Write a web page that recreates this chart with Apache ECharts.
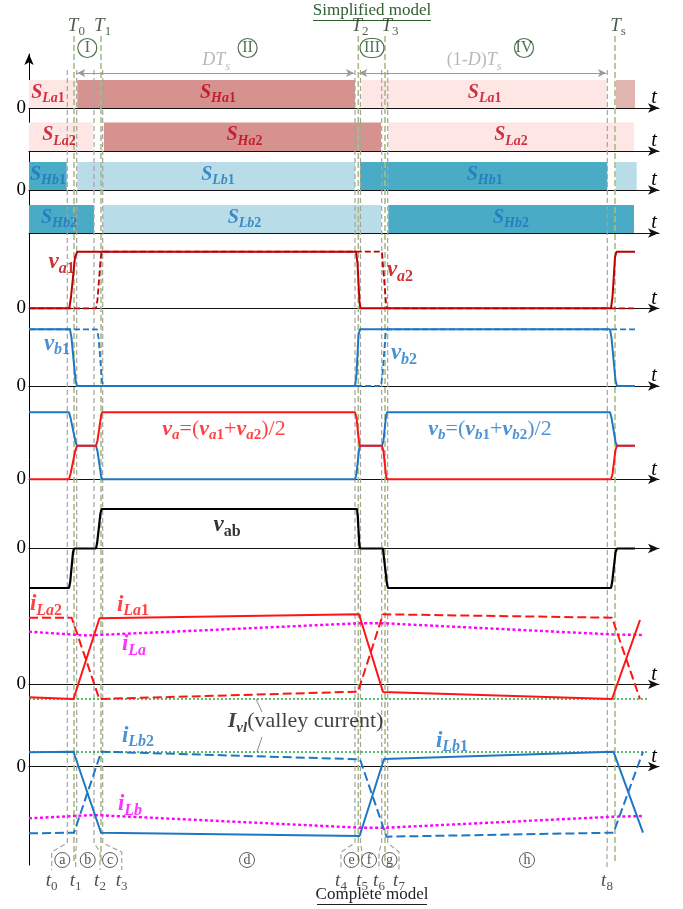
<!DOCTYPE html>
<html><head><meta charset="utf-8">
<script src="https://cdn.jsdelivr.net/npm/echarts@6/dist/echarts.min.js"></script>
<style>html,body{margin:0;padding:0;background:#fff}#c{width:683px;height:909px}</style>
</head><body><div id="c"></div>
<script>
// ---------------- DATA (time axis: 0 .. 630 a.u.) ----------------
const T_MAX = 630;
const tGray = [38.3, 47.7, 65, 73.7, 326, 331.5, 352.7, 358.7, 578.3];       // t0..t8
const tGrayNames = ['0','1','2','3','4','5','6','7','8'];
const tLabelX = [22.7, 46.7, 71, 92.7, 312, 333, 350, 370, 578];
const tGreen = [45, 72, 329.3, 356, 586];                                       // T0,T1,T2,T3,Ts
const tGreenNames = ['0','1','2','3','s'];
const tGreenLabelX = [47.4, 73.6, 331, 361, 589];
const phaseNames = ['I','II','III','IV'];
const phaseX = [58.3, 218.6, 343, 495];
const subNames = ['a','b','c','d','e','f','g','h'];
const subX = [33.3, 58.7, 81, 218, 322.5, 340, 360.5, 498];
const dimSpans = [[48.3, 325], [330.3, 577]];

// switch states: [start, end, state]  (0 = off/light, 1 = on/dark, 2 = faded)
const sLa1 = [[0, 47, 0], [48.3, 326, 1], [332.7, 577.5, 0], [586.7, 606, 2]];
const sLa2 = [[0, 63.7, 0], [75, 352, 1], [359.3, 605, 0]];
const sHb1 = [[0, 37.7, 1], [48.3, 326, 0], [331, 578.3, 1], [586.7, 607.7, 0]];
const sHb2 = [[0, 65, 1], [73.7, 352, 0], [359.3, 605, 1]];
const swLab1 = [[19, 'La1'], [189, 'Ha1'], [455.7, 'La1']];
const swLab2 = [[30, 'La2'], [215.5, 'Ha2'], [482, 'La2']];
const swLab3 = [[19, 'Hb1'], [189, 'Lb1'], [455.7, 'Hb1']];
const swLab4 = [[30, 'Hb2'], [215.5, 'Lb2'], [482, 'Hb2']];

// voltages (normalised)
const va1 = [[0,0],[40.3,0],[42,0.2],[46,0.9],[48.3,1],[327,1],[328.5,0.8],[330.5,0.1],[331.5,0],[582,0],[583.5,0.2],[586,0.9],[587.5,1],[606,1]];
const va2 = [[0,0],[67,0],[68.5,0.15],[71.5,0.85],[72.7,1],[353,1],[353.8,0.8],[357,0.1],[358,0],[606,0]];
const vb1 = [[0,1],[41,1],[42.5,0.85],[46.5,0.1],[48,0],[326,0],[327.5,0.2],[329.5,0.9],[331,1],[581,1],[582.5,0.85],[586.5,0.1],[588,0],[606,0]];
const vb2 = [[0,1],[68,1],[69.5,0.85],[73,0.1],[74.3,0],[352,0],[353.5,0.2],[356.5,0.9],[358,1],[606,1]];
const va = [[0,0],[40,0],[41.5,0.08],[46.5,0.44],[48,0.5],[67,0.5],[68.5,0.58],[72,0.94],[73,1],[326,1],[327.5,0.92],[330,0.56],[331,0.5],[353,0.5],[354.5,0.42],[357,0.06],[358,0],[582,0],[583.5,0.08],[586.5,0.44],[588,0.5],[606,0.5]];
const vb = [[0,1],[40,1],[41.5,0.92],[46.5,0.56],[48,0.5],[67,0.5],[68.5,0.42],[72,0.06],[73,0],[326,0],[327.5,0.08],[330,0.44],[331,0.5],[353,0.5],[354.5,0.58],[357,0.94],[358,1],[581,1],[582.5,0.92],[586.5,0.56],[588,0.5],[606,0.5]];
const vab = [[0,-1],[40,-1],[41.2,-0.85],[44,-0.1],[45,0],[67,0],[68.2,0.15],[71.5,0.9],[72.7,1],[328,1],[328.8,0.8],[330.3,0.1],[331,0],[354,0],[354.8,-0.2],[358,-0.9],[359,-1],[582,-1],[583.2,-0.85],[586.5,-0.1],[588,0],[606,0]];

// currents
const iLa1 = [[0,-1.3],[44.5,-1.47],[70.5,6.6],[330,7.0],[354,-0.77],[583,-1.47],[611,6.43]];
const iLa2 = [[0,6.66],[42.7,6.66],[70.3,-1.47],[329,-0.74],[354,7.0],[583,6.66],[611,-1.47]];
const iLa  = [[0,5.26],[58,4.88],[330,6.1],[355,6.1],[585,4.98],[615,4.93]];
const iLb1 = [[0,1.44],[44.5,1.5],[72,-6.6],[330.6,-6.93],[355,0.77],[584.5,1.5],[614,-6.6]];
const iLb2 = [[0,-6.66],[45,-6.6],[72.3,1.5],[331,0.74],[357.5,-7.0],[584.5,-6.6],[614,1.5]];
const iLb  = [[0,-5.16],[65,-4.83],[331,-6.1],[357.5,-6.1],[584.5,-5.0],[615,-4.93]];
const ivlA = [[0,-1.47],[619,-1.47]];
const ivlB = [[0,1.47],[619,1.47]];

// ---------------- STYLE ----------------
const SERIF = '"Liberation Serif","DejaVu Serif",serif';
const C = {
  redLight:'#fde6e3', redDark:'#d6928e', redFade:'#e3b5b1', blueLight:'#b9dde8', blueDark:'#4aabc7',
  redDeep:'#c00000', red:'#ff1414', blue:'#1f77c4', magenta:'#ff00ff', green:'#1faa3c',
  gray:'#a3a3a3', olive:'#a9bd80', labRed:'#c4001a', labBlue:'#1b75bb', dkGreen:'#234f23'
};
function R(color, size) {
  const s = Math.round(size * 0.68), p = Math.round(size * 0.15);
  return {
    m: {fontFamily:SERIF, fontStyle:'italic', fontWeight:'bold', fontSize:size, color, verticalAlign:'bottom', padding:[0,0,p,0]},
    s: {fontFamily:SERIF, fontStyle:'italic', fontWeight:'bold', fontSize:s, color, verticalAlign:'bottom'},
    n: {fontFamily:SERIF, fontWeight:'bold', fontSize:s, color, verticalAlign:'bottom'},
    r: {fontFamily:SERIF, fontSize:size, color, verticalAlign:'bottom', padding:[0,0,p,0]},
    mi: {fontFamily:SERIF, fontStyle:'italic', fontSize:size, color, verticalAlign:'bottom', padding:[0,0,p,0]},
    si: {fontFamily:SERIF, fontStyle:'italic', fontSize:s, color, verticalAlign:'bottom'},
    sn: {fontFamily:SERIF, fontSize:s, color, verticalAlign:'bottom'}
  };
}

const panels = [
  {top:80,    h:28,   min:0,  max:1, zero:true,  t:true},
  {top:122.5, h:28.5, min:0,  max:1, zero:false, t:true},
  {top:162,   h:28,   min:0,  max:1, zero:true,  t:true},
  {top:205,   h:28,   min:0,  max:1, zero:false, t:true},
  {top:251.7, h:56.6, min:0,  max:1, zero:true,  t:true},
  {top:329.3, h:56.7, min:0,  max:1, zero:true,  t:true},
  {top:412.3, h:67,   min:0,  max:1, zero:true,  t:true},
  {top:509,   h:79,   min:-1, max:1, zero:true,  t:false},
  {top:604.3, h:100,  min:-2, max:8, zero:true,  t:true},
  {top:746.7, h:100,  min:-8, max:2, zero:true,  t:true}
];

const grids = [], xAxes = [], yAxes = [], series = [];
const hidden = {show:false};
// grid 0: page overlay
grids.push({left:29, width:630, top:0, height:909, containLabel:false, outerBoundsMode:'none'});
xAxes.push({gridIndex:0, type:'value', min:0, max:T_MAX, show:false});
yAxes.push({gridIndex:0, type:'value', min:0, max:909, inverse:true, show:false});
// grid 1: main vertical axis
grids.push({left:29, width:630, top:54, height:811, containLabel:false, outerBoundsMode:'none'});
xAxes.push({gridIndex:1, type:'value', min:0, max:T_MAX, show:false});
yAxes.push({gridIndex:1, type:'value', min:0, max:1, axisLine:{show:true, symbol:['none','arrow'], symbolSize:[7,11], lineStyle:{color:'#000', width:1}},
  axisTick:hidden, axisLabel:hidden, splitLine:hidden});
// panels
panels.forEach((p, i) => {
  const g = i + 2;
  grids.push({left:29, width:630, top:p.top, height:p.h, containLabel:false, outerBoundsMode:'none'});
  xAxes.push({gridIndex:g, type:'value', min:0, max:T_MAX, z:3,
    axisLine:{show:true, onZero:true, symbol:['none','arrow'], symbolSize:[7,11], lineStyle:{color:'#111', width:1}},
    axisTick:hidden, axisLabel:hidden, splitLine:hidden,
    name:p.t ? 't' : '', nameLocation:'end', nameGap:-5,
    nameTextStyle:{fontFamily:SERIF, fontStyle:'italic', fontSize:20, color:'#000', align:'center', verticalAlign:'bottom', padding:[0,0,0,0]}});
  yAxes.push({gridIndex:g, type:'value', min:p.min, max:p.max,
    axisLine:hidden, axisTick:hidden, splitLine:hidden,
    axisLabel:{show:p.zero, customValues:[0], margin:3, fontFamily:SERIF, fontSize:19, color:'#000'}});
});

// switch bars
function bars(g, segs, pal) {
  series.push({type:'custom', xAxisIndex:g, yAxisIndex:g, z:1, silent:true, clip:false, data:segs, encode:{x:[0,1]},
    renderItem(params, api) {
      const a = api.coord([api.value(0), 1]);
      const b = api.coord([api.value(1), 0]);
      return {type:'rect', shape:{x:a[0], y:a[1], width:b[0]-a[0], height:b[1]-a[1]}, style:{fill:pal[api.value(2)]}};
    }});
}
bars(2, sLa1, [C.redLight, C.redDark, C.redFade]);
bars(3, sLa2, [C.redLight, C.redDark, C.redFade]);
bars(4, sHb1, [C.blueLight, C.blueDark]);
bars(5, sHb2, [C.blueLight, C.blueDark]);

// text helper (scatter labels)
function texts(g, items, rich, z) {
  series.push({type:'scatter', xAxisIndex:g, yAxisIndex:g, z:z || 7, silent:true, clip:false, symbolSize:1,
    itemStyle:{color:'rgba(0,0,0,0)'},
    data:items.map(it => ({value:[it[0], it[1]], txt:it[2]})),
    label:{show:true, position:'inside', align:'center', verticalAlign:'middle', formatter:p => p.data.txt, rich}});
}
const swRed = R(C.labRed, 20), swBlue = R(C.labBlue, 20);
const swFmt = s => '{m|S}{s|' + s.slice(0, 2) + '}{n|' + s.slice(2) + '}';
texts(2, swLab1.map(d => [d[0], 0.5, swFmt(d[1])]), swRed);
texts(3, swLab2.map(d => [d[0], 0.5, swFmt(d[1])]), swRed);
texts(4, swLab3.map(d => [d[0], 0.5, swFmt(d[1])]), swBlue);
texts(5, swLab4.map(d => [d[0], 0.5, swFmt(d[1])]), swBlue);

// vertical markers
tGray.forEach((t, i) => {
  series.push({type:'line', xAxisIndex:0, yAxisIndex:0, z:4, silent:true, symbol:'none', clip:false,
    data:[[t, 70], [t, 843], [tLabelX[i], 852], [tLabelX[i], 870]],
    lineStyle:{color:C.gray, width:1.2, type:[5, 3]}});
});
tGreen.forEach(t => {
  series.push({type:'line', xAxisIndex:0, yAxisIndex:0, z:4, silent:true, symbol:'none', clip:false,
    data:[[t, 36], [t, 862]], lineStyle:{color:C.olive, width:1.6, type:[6, 3]}});
});

// waveforms
function wave(g, data, color, type, width, z) {
  series.push({type:'line', xAxisIndex:g, yAxisIndex:g, data, symbol:'none', clip:false, silent:true, z:z || 5,
    lineStyle:{color, width, type}});
}
wave(6, va2, C.redDeep, [6, 3], 1.8);
wave(6, va1, C.redDeep, 'solid', 2);
wave(7, vb2, C.blue, [6, 3], 1.8);
wave(7, vb1, C.blue, 'solid', 2);
wave(8, vb, C.blue, 'solid', 2);
wave(8, va, C.red, 'solid', 2);
wave(9, vab, '#000', 'solid', 2.2);
wave(10, ivlA, C.green, [2, 2], 1.3);
wave(10, iLa, C.magenta, [3, 2.5], 2.4);
wave(10, iLa2, C.red, [9, 4], 2);
wave(10, iLa1, C.red, 'solid', 2);
wave(11, ivlB, C.green, [2, 2], 1.3);
wave(11, iLb, C.magenta, [3, 2.5], 2.4);
wave(11, iLb2, C.blue, [9, 4], 2);
wave(11, iLb1, C.blue, 'solid', 2);

// waveform labels
texts(6, [[32.7, 0.79, '{m|v}{s|a}{n|1}'], [371, 0.65, '{m|v}{s|a}{n|2}']], R(C.redDeep, 23));
texts(7, [[28, 0.72, '{m|v}{s|b}{n|1}'], [375, 0.55, '{m|v}{s|b}{n|2}']], R(C.blue, 23));
texts(8, [[195, 0.73, '{m|v}{s|a}{r|=(}{m|v}{s|a}{n|1}{r|+}{m|v}{s|a}{n|2}{r|)/2}']], R(C.red, 22));
texts(8, [[461, 0.73, '{m|v}{s|b}{r|=(}{m|v}{s|b}{n|1}{r|+}{m|v}{s|b}{n|2}{r|)/2}']], R(C.blue, 22));
texts(9, [[198, 0.56, '{m|v}{n|ab}']], R('#000', 23));
texts(10, [[17, 7.85, '{m|i}{s|La}{n|2}'], [104, 7.8, '{m|i}{s|La}{n|1}']], R(C.red, 23));
texts(10, [[105, 3.85, '{m|i}{s|La}']], R(C.magenta, 23));
texts(11, [[109, 2.95, '{m|i}{s|Lb}{n|2}'], [423, 2.45, '{m|i}{s|Lb}{n|1}']], R(C.blue, 23));
texts(11, [[101, -3.9, '{m|i}{s|Lb}']], R(C.magenta, 23));

// valley-current annotation
const ivlLeaders = [[[233, 712], [227, 699]], [[233, 737], [228, 752]]];
ivlLeaders.forEach(d => series.push({type:'line', xAxisIndex:0, yAxisIndex:0, z:6, silent:true, symbol:'none', data:d,
  lineStyle:{color:'#808080', width:0.9}}));
texts(0, [[276.6, 723, '{m|I}{s|vl}{r|(valley current)}']], R('#111', 22));

// dimension arrows DTs, (1-D)Ts
series.push({type:'line', xAxisIndex:0, yAxisIndex:0, symbol:'none', silent:true, data:[[dimSpans[0][0], 73]],
  markLine:{silent:true, symbol:['arrow', 'arrow'], symbolSize:[6, 8], label:{show:false}, emphasis:{disabled:true},
    lineStyle:{color:'#9a9a9a', width:1, type:'solid'},
    data:dimSpans.map(s => [{coord:[s[0], 73]}, {coord:[s[1], 73]}])}});
const gr = R('#a6a6a6', 18);
texts(0, [[187, 62, '{mi|DT}{si|s}'], [445, 62, '{r|(1-}{mi|D}{r|)}{mi|T}{si|s}']], gr);

// top T labels, phases
texts(0, tGreen.map((t, i) => [tGreenLabelX[i], 27, '{mi|T}{sn|' + tGreenNames[i] + '}']), R('#1f331f', 19));
const circBase = {fontFamily:SERIF, fontSize:16, color:C.dkGreen, borderColor:C.dkGreen, borderWidth:1.2, borderRadius:11,
  height:19, lineHeight:19, align:'center'};
const circRich = {c:Object.assign({width:19}, circBase), cw:Object.assign({width:24}, circBase)};
texts(0, phaseNames.map((n, i) => [phaseX[i], 48, '{' + (n.length > 2 ? 'cw' : 'c') + '|' + n + '}']), circRich);

// bottom labels
const subRich = {c:{fontFamily:SERIF, fontSize:14, color:'#222', borderColor:'#333', borderWidth:1, borderRadius:8,
  width:15, height:15, lineHeight:15, align:'center'}};
texts(0, subNames.map((n, i) => [subX[i], 860, '{c|' + n + '}']), subRich);
texts(0, tGray.map((t, i) => [tLabelX[i], 882, '{mi|t}{sn|' + tGrayNames[i] + '}']), R('#222', 19));

const option = {
  animation:false, backgroundColor:'#fff',
  grid:grids, xAxis:xAxes, yAxis:yAxes, series,
  graphic:[
    {type:'text', x:372, y:11, style:{text:'Simplified model', font:'17px ' + SERIF, fill:'#2f5f2f', textAlign:'center', textVerticalAlign:'middle'}},
    {type:'line', shape:{x1:313, y1:20.5, x2:431, y2:20.5}, style:{stroke:'#2f5f2f', lineWidth:1}},
    {type:'text', x:372, y:895, style:{text:'Complete model', font:'17px ' + SERIF, fill:'#222', textAlign:'center', textVerticalAlign:'middle'}},
    {type:'line', shape:{x1:317, y1:904.5, x2:427, y2:904.5}, style:{stroke:'#222', lineWidth:1}}
  ]
};
const chart = echarts.init(document.getElementById('c'), null, {renderer:'canvas'});
chart.setOption(option);
</script></body></html>
